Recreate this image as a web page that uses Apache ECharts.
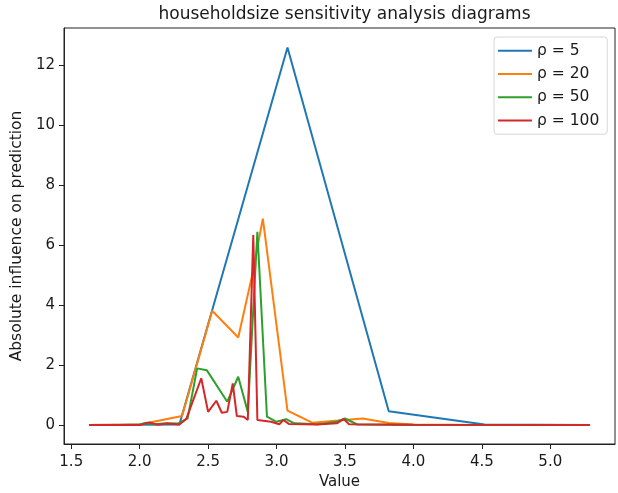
<!DOCTYPE html>
<html><head><meta charset="utf-8">
<script src="https://cdn.jsdelivr.net/npm/echarts@6/dist/echarts.min.js"></script>
<style>html,body{margin:0;padding:0;background:#fff}#c{width:618px;height:493px}</style>
</head><body><div id="c"></div>
<script>
const seriesNames = ['ρ = 5', 'ρ = 20', 'ρ = 50', 'ρ = 100'];
const seriesColors = ['#1f77b4', '#ff7f0e', '#2ca02c', '#d62728'];
const xTicks = [1.5, 2.0, 2.5, 3.0, 3.5, 4.0, 4.5, 5.0];
const yTicks = [0, 2, 4, 6, 8, 10, 12];

const rho5 = [[1.63,0],[2.29,0.02],[3.08,12.58],[3.82,0.46],[4.52,0.02],[5.29,0]];
const rho20 = [[1.63,0],[2.0,0.02],[2.31,0.3],[2.53,3.81],[2.72,2.92],[2.82,4.95],[2.90,6.88],[3.08,0.48],[3.26,0.08],[3.45,0.15],[3.63,0.22],[3.82,0.07],[4.0,0.02],[4.5,0],[5.29,0]];
const rho50 = [[1.63,0],[1.85,0],[2.0,0.02],[2.05,0.08],[2.1,0.03],[2.2,0.06],[2.28,0.05],[2.35,0.22],[2.42,1.89],[2.49,1.83],[2.64,0.78],[2.72,1.61],[2.79,0.44],[2.86,6.44],[2.93,0.28],[3.0,0.11],[3.07,0.2],[3.13,0.06],[3.3,0.03],[3.43,0.1],[3.5,0.22],[3.59,0.02],[4.0,0],[5.29,0]];
const rho100 = [[1.63,0],[2.0,0.0],[2.07,0.09],[2.13,0.01],[2.2,0.05],[2.29,0.02],[2.34,0.2],[2.45,1.56],[2.50,0.44],[2.56,0.81],[2.60,0.41],[2.64,0.44],[2.68,1.39],[2.71,0.3],[2.76,0.28],[2.79,0.17],[2.83,6.33],[2.86,0.17],[2.96,0.11],[3.02,0.03],[3.05,0.17],[3.09,0.04],[3.2,0.03],[3.3,0.02],[3.44,0.06],[3.49,0.2],[3.53,0.03],[4.0,0.01],[5.29,0]];
const allData = [rho5, rho20, rho50, rho100];

const font = 'DejaVu Sans';
const txt = '#1a1a1a';
const chart = echarts.init(document.getElementById('c'), null, {renderer: 'canvas'});
chart.setOption({
  backgroundColor: '#fff',
  animation: false,
  title: {
    text: 'householdsize sensitivity analysis diagrams',
    left: 339.5, top: 1, textAlign: 'center',
    textStyle: {fontFamily: font, fontSize: 17, fontWeight: 'normal', color: txt}
  },
  grid: {left: 64, right: 3, top: 28, bottom: 49, outerBoundsMode: 'none', containLabel: false,
    show: true, borderColor: '#222', borderWidth: 1, backgroundColor: 'transparent'},
  legend: {
    left: 494, top: 37, orient: 'vertical',
    data: seriesNames,
    icon: 'rect', itemWidth: 34, itemHeight: 2, itemGap: 6, itemTextGap: 11,
    padding: [5, 8, 5, 4],
    borderColor: '#d6d6d6', borderWidth: 1, borderRadius: 3,
    backgroundColor: 'rgba(255,255,255,0.8)',
    textStyle: {fontFamily: font, fontSize: 15.5, color: txt, lineHeight: 17.3}
  },
  xAxis: {
    type: 'value', min: 1.447, max: 5.473,
    name: 'Value', nameLocation: 'middle', nameGap: 31,
    nameTextStyle: {fontFamily: font, fontSize: 15, color: txt},
    axisLine: {show: true, onZero: false, lineStyle: {color: '#222', width: 1}},
    axisTick: {show: true, length: 5, customValues: xTicks, lineStyle: {color: '#222'}},
    axisLabel: {customValues: xTicks, margin: 11, fontFamily: font, fontSize: 15, color: txt,
      formatter: v => v.toFixed(1)},
    splitLine: {show: false}
  },
  yAxis: {
    type: 'value', min: -0.63, max: 13.23,
    name: 'Absolute influence on prediction', nameLocation: 'middle', nameGap: 38,
    nameTextStyle: {fontFamily: font, fontSize: 15.5, color: txt},
    axisLine: {show: true, onZero: false, lineStyle: {color: '#222', width: 1}},
    axisTick: {show: true, length: 5, customValues: yTicks, lineStyle: {color: '#222'}},
    axisLabel: {customValues: yTicks, margin: 9, fontFamily: font, fontSize: 15, color: txt},
    splitLine: {show: false}
  },
  series: allData.map((d, i) => ({
    name: seriesNames[i], type: 'line', data: d,
    symbol: 'none', showSymbol: false,
    lineStyle: {color: seriesColors[i], width: 2},
    itemStyle: {color: seriesColors[i]},
    z: 2 + i
  }))
});
</script>
</body></html>
